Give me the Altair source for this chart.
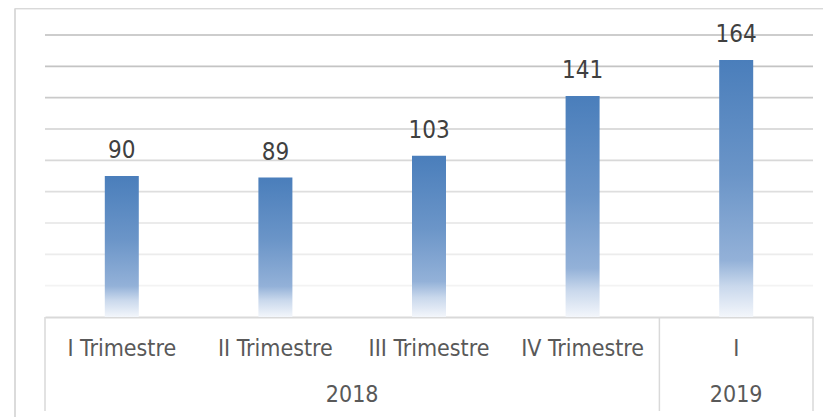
import altair as alt
import pandas as pd

# ---- data ----
quarters = ["I Trimestre", "II Trimestre", "III Trimestre", "IV Trimestre", "I"]
years_of_quarter = ["2018", "2018", "2018", "2018", "2019"]
values = [90, 89, 103, 141, 164]
grid_values = [20, 40, 60, 80, 100, 120, 140, 160, 180]

FONT = "Liberation Sans Narrow, DejaVu Sans Condensed, Liberation Sans, sans-serif"
W, H = 768, 282

df = pd.DataFrame({"q": quarters, "year": years_of_quarter, "v": values})

# group boundaries/centers derived from the data (index units on a [0, n] scale)
groups = []
start = 0
for y in dict.fromkeys(years_of_quarter):
    n = years_of_quarter.count(y)
    groups.append({"year": y, "start": start, "end": start + n, "mid": start + n / 2})
    start += n
gdf = pd.DataFrame(groups)
bounds = pd.DataFrame({"b": [0] + [g["end"] for g in groups]})
grid_df = pd.DataFrame({"g": grid_values})

yscale = alt.Scale(domain=[0, 180])
xband = alt.Scale(domain=quarters, paddingInner=0, paddingOuter=0)
xlin = alt.Scale(domain=[0, len(quarters)], nice=False, zero=False)

gradient = alt.Gradient(
    gradient="linear", x1=0, y1=0, x2=0, y2=1,
    stops=[
        alt.GradientStop(offset=0, color="#4a7ebb"),
        alt.GradientStop(offset=0.45, color="#6b95c8"),
        alt.GradientStop(offset=0.78, color="#93b1d8"),
        alt.GradientStop(offset=0.88, color="#c9d8ec"),
        alt.GradientStop(offset=1, color="#f3f6fb"),
    ],
)

grid = alt.Chart(grid_df).mark_rule(strokeWidth=1.6).encode(
    y=alt.Y("g:Q", scale=yscale, axis=None),
    x=alt.value(0), x2=alt.value(W),
    color=alt.Color("g:Q", scale=alt.Scale(domain=[20, 180], range=["#f3f3f3", "#bdbdbd"]), legend=None),
)

bars = alt.Chart(df).mark_bar(size=34, color=gradient).encode(
    x=alt.X("q:N", scale=xband, sort=quarters, title=None,
            axis=alt.Axis(labelAngle=0, ticks=False, tickSize=0, labelPadding=31,
                          labelBaseline="middle", labelFont=FONT, labelFontSize=23,
                          labelColor="#595959", domainColor="#d9d9d9", domainWidth=2,
                          grid=False)),
    y=alt.Y("v:Q", scale=yscale, axis=None),
)

labels = alt.Chart(df).mark_text(dy=-18, baseline="alphabetic", font=FONT, fontSize=24,
                                 color="#404040").encode(
    x=alt.X("q:N", scale=xband, sort=quarters, axis=None),
    y=alt.Y("v:Q", scale=yscale, axis=None),
    text=alt.Text("v:Q"),
)

seps = alt.Chart(bounds).mark_rule(color="#d9d9d9", strokeWidth=1.5).encode(
    x=alt.X("b:Q", scale=xlin, axis=None),
    y=alt.value(H), y2=alt.value(H + 94),
)

year_text = alt.Chart(gdf).mark_text(baseline="middle", font=FONT, fontSize=23,
                                     color="#595959").encode(
    x=alt.X("mid:Q", scale=xlin, axis=None),
    y=alt.value(H + 78),
    text="year:N",
)

border = alt.Chart(gdf).mark_rule(color="#d9d9d9", strokeWidth=1.5).encode(
    x=alt.value(-30), x2=alt.value(W + 20), y=alt.value(-26.5),
)
border_left = alt.Chart(gdf).mark_rule(color="#d9d9d9", strokeWidth=1.5).encode(
    x=alt.value(-30), y=alt.value(-26.5), y2=alt.value(H + 110),
)

chart = alt.layer(grid, bars, labels, seps, year_text, border, border_left).resolve_scale(
    x="independent"
).properties(
    width=W, height=H,
    background="white",
    autosize=alt.AutoSizeParams(type="none"),
    padding={"left": 37, "top": 27, "right": 10, "bottom": 100},
).configure_view(stroke=None, strokeWidth=0)

chart.save("out.html", embed_options={"renderer": "svg", "actions": False})
